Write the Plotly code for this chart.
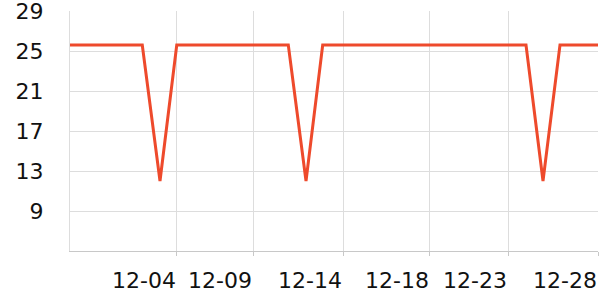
import plotly.graph_objects as go

# Data (vertices of the line)
times = [
    "2023-11-28 19:12", "2023-12-02 20:20", "2023-12-03 20:10", "2023-12-04 18:40",
    "2023-12-11 00:35", "2023-12-12 00:25", "2023-12-12 22:50",
    "2023-12-24 08:05", "2023-12-25 06:55", "2023-12-26 05:45", "2023-12-28 08:50",
]
values = [25.6, 25.6, 12.0, 25.6, 25.6, 12.0, 25.6, 25.6, 12.0, 25.6, 25.6]

x_tickvals = ["2023-12-04 19:00", "2023-12-09 01:09", "2023-12-14 02:07",
              "2023-12-18 23:02", "2023-12-23 07:52", "2023-12-28 08:50"]
x_ticktext = ["12-04", "12-09", "12-14", "12-18", "12-23", "12-28"]
y_tickvals = [9, 13, 17, 21, 25, 29]

fig = go.Figure(go.Scatter(
    x=times, y=values, mode="lines",
    line=dict(color="#ee4a2c", width=3),
    hoverinfo="skip",
))

fig.update_layout(
    width=600, height=300,
    margin=dict(l=70, r=2, t=11, b=49),
    paper_bgcolor="white", plot_bgcolor="white",
    showlegend=False,
    font=dict(family="DejaVu Sans", size=22, color="#111"),
)
fig.update_xaxes(
    type="date",
    range=[times[0], times[-1]],
    tickmode="array", tickvals=x_tickvals, ticktext=x_ticktext,
    showgrid=True, gridcolor="#dddddd", gridwidth=1,
    showline=True, linecolor="#c8c8c8", linewidth=1,
    ticks="outside", ticklen=4, tickcolor="#c8c8c8",
    ticklabelshift=-33, ticklabelstandoff=6,
    ticklabeloverflow="allow",
    zeroline=False, automargin=False,
)
fig.update_yaxes(
    range=[5, 29.0001],
    tickmode="array", tickvals=y_tickvals,
    showgrid=True, gridcolor="#dddddd", gridwidth=1,
    showline=True, linecolor="#dddddd", linewidth=1,
    ticks="", ticklabelstandoff=21,
    ticklabeloverflow="allow",
    zeroline=False, automargin=False,
)

fig.write_html("out.html")
